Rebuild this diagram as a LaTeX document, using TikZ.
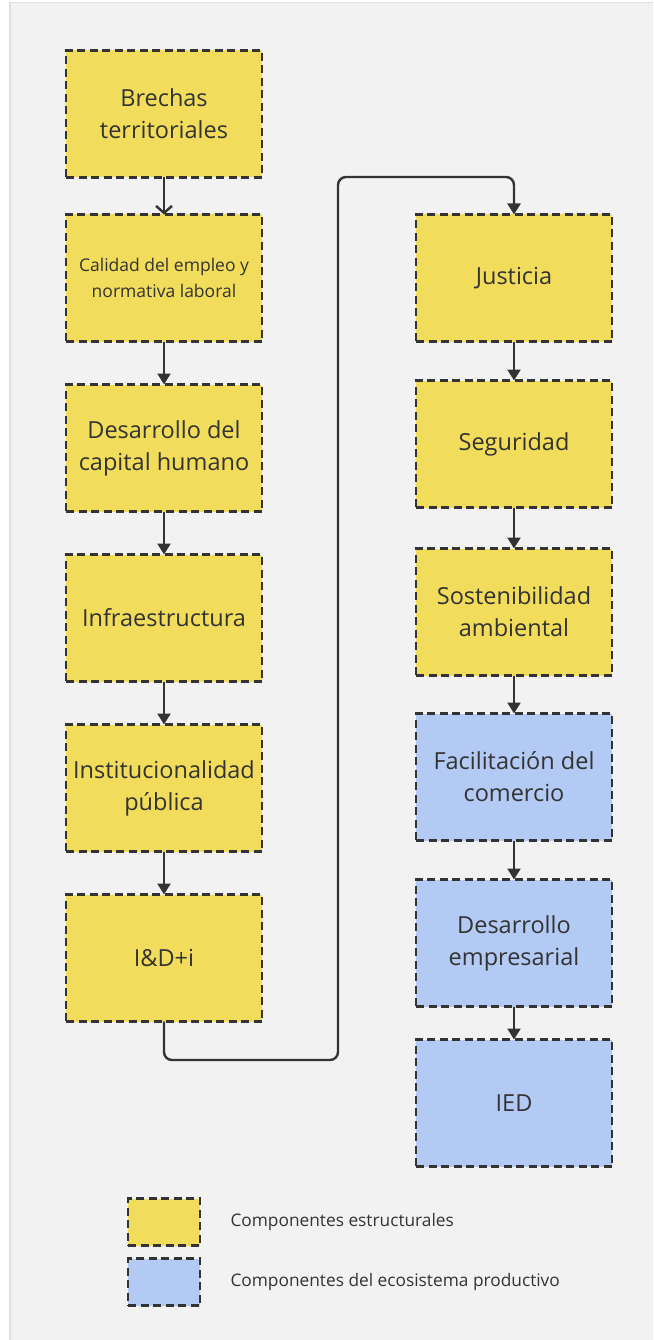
\documentclass[tikz,border=0pt]{standalone}
\usepackage{fontspec}
\setmainfont{Open Sans}
\usetikzlibrary{arrows.meta}
\definecolor{panel}{HTML}{F2F2F2}
\definecolor{yel}{HTML}{F2DC5B}
\definecolor{blu}{HTML}{B3CAF4}
\definecolor{ink}{HTML}{333333}
\tikzset{
  comp/.style={draw=ink, line width=2.8pt, dash pattern=on 8pt off 4.5pt,
    minimum width=196pt, minimum height=127pt, inner sep=0pt, outer sep=0pt,
    text=ink, align=center, font=\fontsize{23.5}{32}\selectfont},
  ycomp/.style={comp, fill=yel},
  bcomp/.style={comp, fill=blu},
  lgbox/.style={draw=ink, line width=2.8pt, dash pattern=on 8pt off 4.5pt,
    minimum width=72pt, minimum height=47pt, inner sep=0pt},
  lgtext/.style={text=ink, anchor=west, font=\fontsize{17.3}{20}\selectfont},
  conn/.style={draw=ink, line width=2.4pt, -{Triangle[length=11pt,width=13pt]}},
}
\begin{document}
\begin{tikzpicture}[x=1pt,y=-1pt]
\useasboundingbox (0,0) rectangle (653,1340);
\fill[white] (0,0) rectangle (653,1340);
\fill[black!12] (9,2) rectangle (653,1340);
\fill[black!6] (11,3) rectangle (653,1340);
\fill[panel] (13,4) rectangle (653,1340);
% left column
\node[ycomp] (a1) at (164,114) {Brechas\\territoriales};
\node[ycomp, font=\fontsize{17.5}{26}\selectfont] (a2) at (164,278) {Calidad del empleo y\\normativa laboral};
\node[ycomp] (a3) at (164,448) {Desarrollo del\\capital humano};
\node[ycomp] (a4) at (164,618) {Infraestructura};
\node[ycomp] (a5) at (164,788) {Institucionalidad\\pública};
\node[ycomp] (a6) at (164,958) {I\&D+i};
% right column
\node[ycomp] (b1) at (514,278) {Justicia};
\node[ycomp] (b2) at (514,444) {Seguridad};
\node[ycomp] (b3) at (514,612) {Sostenibilidad\\ambiental};
\node[bcomp] (b4) at (514,777) {Facilitación del\\comercio};
\node[bcomp] (b5) at (514,943) {Desarrollo\\empresarial};
\node[bcomp] (b6) at (514,1103) {IED};
% connectors
\draw[draw=ink, line width=2.4pt, -{Straight Barb[length=7pt,width=16pt]}] (a1) -- (a2);
\draw[conn] (a2) -- (a3);
\draw[conn] (a3) -- (a4);
\draw[conn] (a4) -- (a5);
\draw[conn] (a5) -- (a6);
\coordinate (c1) at (164,1060);
\coordinate (c2) at (338,1060);
\coordinate (c3) at (338,177);
\coordinate (c4) at (514,177);
\draw[conn, rounded corners=8pt] (a6.south) -- (c1) -- (c2) -- (c3) -- (c4) -- (b1.north);
\draw[conn] (b1) -- (b2);
\draw[conn] (b2) -- (b3);
\draw[conn] (b3) -- (b4);
\draw[conn] (b4) -- (b5);
\draw[conn] (b5) -- (b6);
% legend
\node[lgbox, fill=yel] (l1) at (164,1222) {};
\node[lgbox, fill=blu] (l2) at (164,1282) {};
\node[lgtext] (t1) at (227,1222) {Componentes estructurales};
\node[lgtext] (t2) at (227,1282) {Componentes del ecosistema productivo};
\end{tikzpicture}
\end{document}
